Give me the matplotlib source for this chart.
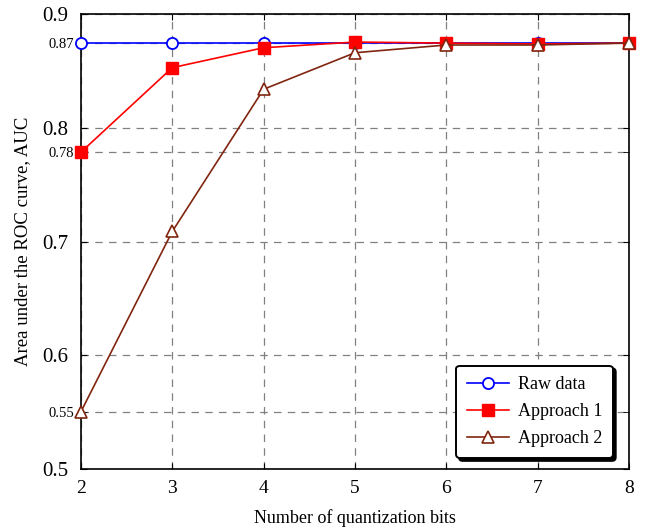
import matplotlib
matplotlib.use("Agg")
import matplotlib.pyplot as plt

# Data
bits = [2, 3, 4, 5, 6, 7, 8]
raw_auc = [0.8748, 0.8748, 0.8748, 0.8748, 0.8748, 0.8748, 0.8748]
approach1_auc = [0.7786, 0.8529, 0.8704, 0.8754, 0.8745, 0.8737, 0.8745]
approach2_auc = [0.5505, 0.7089, 0.8339, 0.8660, 0.8728, 0.8728, 0.8745]

major_ticks = [0.5, 0.6, 0.7, 0.8, 0.9]
minor_ticks = [0.5505, 0.7786, 0.8748]
minor_labels = ["0.55", "0.78", "0.87"]

plt.rcParams['font.family'] = ['Liberation Serif', 'DejaVu Serif']

fig = plt.figure(figsize=(6.46, 5.29), dpi=100)
ax = fig.add_axes([0.1254, 0.1134, 0.848, 0.860])

ax.plot(bits, raw_auc, color='#0000ff', marker='o', markersize=8,
        markerfacecolor='white', markeredgecolor='#0000ff', markeredgewidth=1.3,
        linewidth=1.2, label='Raw data', zorder=3, clip_on=False)
ax.plot(bits, approach1_auc, color='#ff0000', marker='s', markersize=9,
        markerfacecolor='#ff0000', markeredgecolor='#ff0000',
        linewidth=1.2, label='Approach 1', zorder=4, clip_on=False)
ax.plot(bits, approach2_auc, color='#80250f', marker='^', markersize=8,
        markerfacecolor='white', markeredgecolor='#80250f', markeredgewidth=1.2,
        linewidth=1.2, label='Approach 2', zorder=5, clip_on=False)

ax.set_xlim(2, 8)
ax.set_ylim(0.5, 0.9)
ax.set_xticks(bits)
ax.set_yticks(major_ticks)
ax.set_yticks(minor_ticks, minor=True)
ax.set_yticklabels(minor_labels, minor=True)
ax.tick_params(axis='y', which='major', labelsize=15, direction='in', right=True,
               length=4, pad=9)
ax.tick_params(axis='y', which='minor', labelsize=10.5, direction='in', right=True,
               length=4, pad=5)
ax.tick_params(axis='x', labelsize=14, direction='in', top=True, length=4, pad=8)

ax.grid(True, which='both', linestyle=(0, (6, 5)), color='#808080', linewidth=0.9)
for s in ax.spines.values():
    s.set_linewidth(1.2)

ax.set_xlabel('Number of quantization bits', fontsize=13, labelpad=9)
ax.set_ylabel('Area under the ROC curve, AUC', fontsize=13.5, labelpad=8)

leg = ax.legend(loc='lower right', bbox_to_anchor=(0.971, 0.024), fontsize=13,
                fancybox=True, shadow={'color': 'black', 'alpha': 1}, framealpha=1,
                edgecolor='black', handlelength=2.3, handletextpad=0.5,
                labelspacing=0.55, borderpad=0.6, borderaxespad=0)
leg.get_frame().set_linewidth(1.4)

fig.savefig('out.png', dpi=100)
